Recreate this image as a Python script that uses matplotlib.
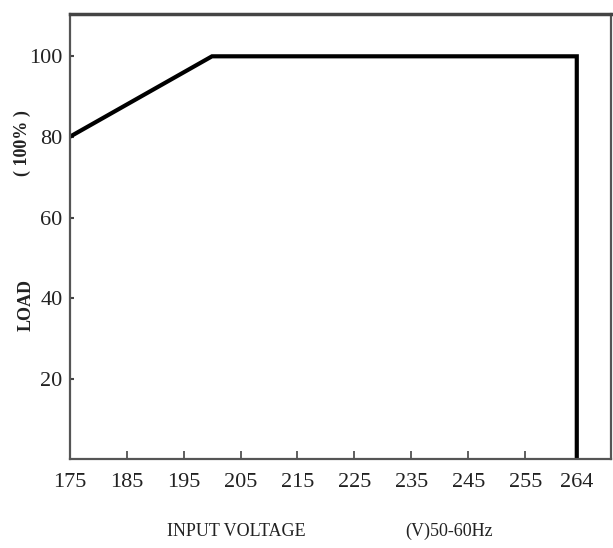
import matplotlib
matplotlib.use("agg")
from matplotlib import pyplot as plt

# derating curve: load (%) vs input voltage (V)
voltage = [175, 200, 264, 264]
load = [80, 100, 100, 0]

xTicks = [175, 185, 195, 205, 215, 225, 235, 245, 255, 264]
xTickLabels = ["175", "185", "195", "205", "215", "225", "235", "245", "255", "264"]
yTicks = [20, 40, 60, 80, 100]
yTickLabels = ["20", "40", "60", "80", "100"]

plt.rcParams["font.family"] = ["Liberation Serif", "DejaVu Serif"]

fig = plt.figure(figsize=(6.13, 5.48), dpi=100)
ax = fig.add_axes([0.1134, 0.1615, 0.8833, 0.813])

ax.plot(voltage, load, color="black", linewidth=3, solid_joinstyle="miter")

ax.set_xlim(175, 270)
ax.set_ylim(0, 110.5)
ax.set_xticks(xTicks)
ax.set_xticklabels(xTickLabels)
ax.set_yticks(yTicks)
ax.set_yticklabels(yTickLabels)
ax.tick_params(axis="x", direction="in", length=6, width=1.2, color="#444444", pad=10,
               labelsize=16, labelcolor="#222222")
ax.tick_params(axis="y", direction="in", length=3, width=1.5, color="#444444", pad=5,
               labelsize=16, labelcolor="#222222")

for side in ["left", "bottom", "right"]:
    ax.spines[side].set_linewidth(1.6)
    ax.spines[side].set_color("#555555")
ax.spines["top"].set_linewidth(2.5)
ax.spines["top"].set_color("#444444")

# axis titles
fig.text(236 / 613, 1 - 531 / 548, "INPUT VOLTAGE", ha="center", va="center", fontsize=13,
         color="#222222")
fig.text(449 / 613, 1 - 531 / 548, "(V)50-60Hz", ha="center", va="center", fontsize=13,
         color="#222222")
fig.text(26 / 613, 1 - 305 / 548, "LOAD", ha="center", va="center", rotation=90,
         fontsize=13, fontweight="bold", color="#222222")
fig.text(22 / 613, 1 - 143 / 548, "( 100% )", ha="center", va="center", rotation=90,
         fontsize=13, fontweight="bold", color="#222222")

fig.savefig("out.png", dpi=100)
plt.close(fig)
